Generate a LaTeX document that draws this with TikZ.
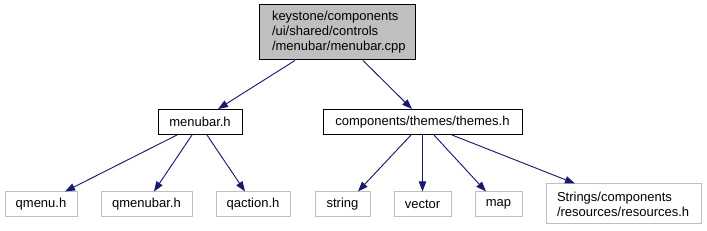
\documentclass[tikz,border=0pt]{standalone}
\usepackage{fontspec}
\setmainfont{Liberation Sans}
\usetikzlibrary{arrows.meta}
\definecolor{edgeblue}{RGB}{25,25,112}
\definecolor{nodegray}{RGB}{191,191,191}
\tikzset{
  filebox/.style={draw=black, line width=0.75pt, fill=white, minimum height=18.75pt, inner sep=0pt, font=\fontsize{9.75}{11.25}\selectfont},
  rootbox/.style={filebox, fill=nodegray, align=left, inner xsep=9.75pt, text width=97.5pt, minimum height=41.25pt},
  extbox/.style={filebox, draw=nodegray},
  dep/.style={-{Triangle[length=7.5pt,width=5.5pt]}, edgeblue, line width=0.7pt}
}
\begin{document}
\begin{tikzpicture}[x=0.75pt, y=-0.75pt]
\useasboundingbox (0,0) rectangle (707,231);
% included file and direct headers
\node[rootbox] (menubarcpp) at (337,32.5) {keystone/components\\/ui/shared/controls\\/menubar/menubar.cpp};
\node[filebox, minimum width=63pt] (menubarh) at (200,122) {menubar.h};
\node[filebox, minimum width=149.25pt] (themesh) at (422.5,122) {components/themes/themes.h};
% headers not documented
\node[extbox, minimum width=54pt] (qmenu) at (41,204.5) {qmenu.h};
\node[extbox, minimum width=68.25pt] (qmenubar) at (146.5,204.5) {qmenubar.h};
\node[extbox, minimum width=55.5pt] (qaction) at (253,204.5) {qaction.h};
\node[extbox, minimum width=41.25pt] (string) at (342.5,204.5) {string};
\node[extbox, minimum width=42.75pt] (vector) at (422.5,204.5) {vector};
\node[extbox, minimum width=35.25pt] (map) at (498.5,204.5) {map};
\node[extbox, align=left, inner xsep=8.25pt, text width=99.75pt, minimum height=30pt] (resources) at (623.5,204) {Strings/components\\/resources/resources.h};

\draw[dep] ([xshift=-31.5pt]menubarcpp.south) -- ([xshift=13.5pt]menubarh.north);
\draw[dep] ([xshift=19.5pt]menubarcpp.south) -- ([xshift=-7.9pt]themesh.north);
\draw[dep] ([xshift=-17.25pt]menubarh.south) -- ([xshift=18pt]qmenu.north);
\draw[dep] ([xshift=-6pt]menubarh.south) -- ([xshift=5.6pt]qmenubar.north);
\draw[dep] ([xshift=5.25pt]menubarh.south) -- ([xshift=-6pt]qaction.north);
\draw[dep] ([xshift=-8.6pt]themesh.south) -- ([xshift=11.6pt]string.north);
\draw[dep] (themesh.south) -- (vector.north);
\draw[dep] ([xshift=8.6pt]themesh.south) -- ([xshift=-9.4pt]map.north);
\draw[dep] ([xshift=22.1pt]themesh.south) -- ([xshift=-36.4pt]resources.north);
\end{tikzpicture}
\end{document}
